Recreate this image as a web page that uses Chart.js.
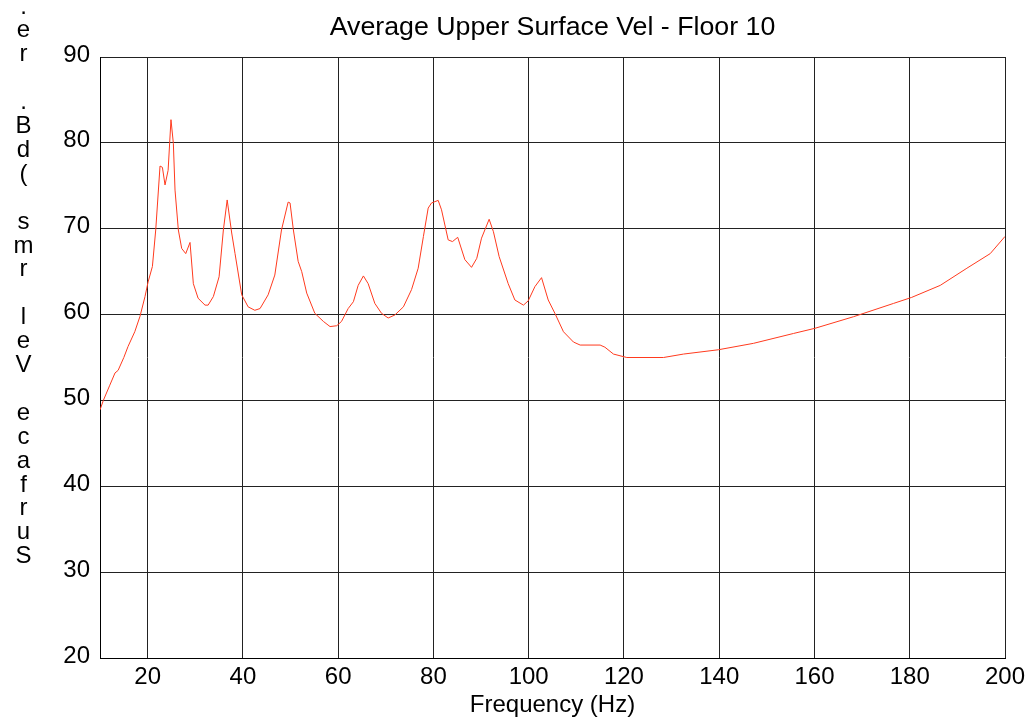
<!DOCTYPE html>
<html><head><meta charset="utf-8">
<script src="https://cdn.jsdelivr.net/npm/chart.js@4.4.0/dist/chart.umd.min.js"></script>
<style>html,body{margin:0;padding:0;background:#fff;}canvas{display:block;}</style>
</head><body>
<canvas id="c" width="1035" height="720" style="width:1035px;height:720px"></canvas>
<script>
const title = "Average Upper Surface Vel - Floor 10";
const xLabel = "Frequency (Hz)";
const yLabel = "Surface Vel rms (dB. re.";
const xTicks = [20,40,60,80,100,120,140,160,180,200];
const yTicks = [20,30,40,50,60,70,80,90];
const freq = [10,10.7,12,13.15,13.8,15,15.9,17.3,18.4,19.45,20.1,21.0,21.7,22.6,23.1,23.65,24.3,24.9,25.4,25.75,26.45,27.15,28.0,28.9,29.6,30.6,32.05,32.7,33.8,35.0,35.9,36.7,37.65,38.35,39.75,41.1,42.5,43.6,45.3,46.7,48.1,49.5,49.9,50.6,51.6,52.35,53.4,55.1,56.9,58.3,59.7,60.7,62.1,63.2,64.2,65.3,66.3,67.7,69.1,70.5,71.9,73.7,75.4,76.8,77.9,78.9,79.6,81.0,81.7,83.1,84.0,85.1,86.6,88.0,89.1,90.1,91.7,92.6,93.8,95.7,97.1,98.9,99.9,101.3,102.7,104.1,105.5,107.3,109.4,110.8,115.0,116.0,117.8,120.6,128.3,132.5,139.8,147.2,155.6,160.1,168.2,176.6,180.4,186.4,192.0,196.9,200];
const level = [48.9,50.0,51.7,53.2,53.5,55.0,56.3,58.0,59.8,62.1,63.8,65.6,69.85,77.3,77.15,75.1,76.8,82.7,79.95,74.5,69.85,67.7,67.1,68.4,63.6,61.9,61.1,61.1,62.1,64.4,69.85,73.35,69.5,67.1,62.3,60.9,60.5,60.7,62.3,64.6,69.85,73.1,73.0,69.85,66.2,65.0,62.5,60.15,59.2,58.6,58.7,59.2,60.7,61.5,63.4,64.5,63.6,61.3,60.15,59.6,59.95,60.9,62.9,65.4,69.1,72.4,73.0,73.3,72.2,68.7,68.5,69.0,66.4,65.5,66.55,68.9,71.1,69.65,66.75,63.6,61.7,61.1,61.6,63.25,64.3,61.7,60.15,58.0,56.8,56.45,56.45,56.2,55.4,55.0,55.0,55.4,55.9,56.65,57.8,58.4,59.75,61.3,62.0,63.4,65.4,67.1,69.1];

const FONT = "'Liberation Sans', Arial, sans-serif";
const decor = {
  id: 'decor',
  afterDraw(chart) {
    const ctx = chart.ctx;
    const a = chart.chartArea;
    ctx.save();
    ctx.fillStyle = '#000';
    ctx.textAlign = 'center';
    ctx.textBaseline = 'alphabetic';
    ctx.save();
    ctx.translate((a.left + a.right) / 2, 35);
    ctx.scale(1.07, 1);
    ctx.font = '25px ' + FONT;
    ctx.fillText(title, 0, 0);
    ctx.restore();
    ctx.font = '24px ' + FONT;
    const chars = yLabel.split('').reverse();
    chars.forEach((ch, i) => { if (ch !== ' ') ctx.fillText(ch, 23.5, 13.5 + i * 23.9); });
    ctx.restore();
  }
};

new Chart(document.getElementById('c'), {
  type: 'line',
  data: { datasets: [{ data: freq.map((f, i) => ({ x: f, y: level[i] })), borderColor: '#ff3a1e', borderWidth: 1, pointRadius: 0, tension: 0, fill: false }] },
  options: {
    responsive: false, animation: false, devicePixelRatio: 1,
    layout: { padding: { top: 57, right: 30, left: 0, bottom: 0 } },
    plugins: { legend: { display: false }, tooltip: { enabled: false } },
    scales: {
      x: {
        type: 'linear', min: 10, max: 200,
        afterBuildTicks: s => { s.ticks = xTicks.map(v => ({ value: v })); },
        afterFit: s => { s.height = 62; },
        grid: { color: '#222', lineWidth: 1, drawTicks: false },
        border: { color: '#000', width: 1 },
        ticks: { color: '#000', font: { family: FONT, size: 24 }, padding: 5, maxRotation: 0 },
        title: { display: true, text: xLabel, color: '#000', font: { family: FONT, size: 24 }, padding: { top: 0, bottom: 0 } }
      },
      y: {
        min: 20, max: 90,
        afterBuildTicks: s => { s.ticks = yTicks.map(v => ({ value: v })); },
        afterFit: s => { s.width = 100; },
        grid: { color: '#222', lineWidth: 1, drawTicks: false },
        border: { color: '#000', width: 1 },
        ticks: { color: '#000', font: { family: FONT, size: 24 }, padding: 10, labelOffset: -2 }
      }
    }
  },
  plugins: [decor]
});
</script>
</body></html>
